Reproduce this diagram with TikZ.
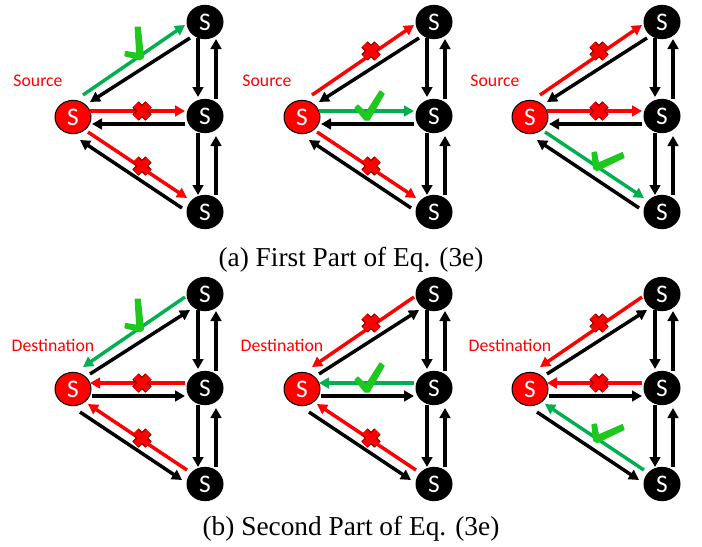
\documentclass[tikz,border=0pt]{standalone}
\usepackage{fontspec}
\setmainfont{Liberation Serif}
\newfontfamily\calib{Carlito}
\usetikzlibrary{shapes.geometric,arrows.meta,calc}
\definecolor{okgreen}{RGB}{0,176,80}
\definecolor{chkgreen}{RGB}{30,200,30}
\definecolor{errred}{RGB}{255,0,0}
\definecolor{xdark}{RGB}{140,0,0}
\tikzset{
  conn/.style={line width=2.6pt},
  fwd/.style={-{Triangle[length=7.5pt,width=8pt]}},
  bwd/.style={{Triangle[length=7.5pt,width=8pt]}-},
  lineok/.style={conn,draw=okgreen},
  linebad/.style={conn,draw=errred},
  lineblk/.style={conn,draw=black},
  snode/.style={ellipse,draw=black,line width=0.75pt,fill=black,text=white,
    minimum width=27pt,minimum height=25pt,inner sep=0pt,
    font=\calib\fontsize{19}{19}\selectfont},
  srcnode/.style={snode,fill=errred},
  lbl/.style={text=errred,font=\calib\fontsize{13.3}{14}\selectfont,inner sep=0pt},
  captxt/.style={font=\fontsize{20.5}{24}\selectfont,inner sep=0pt,anchor=base},
  checkmk/.style={draw=chkgreen,fill=chkgreen,line width=1pt,line join=round},
  xout/.style={draw=xdark,line width=6.8pt},
  xin/.style={draw=errred,line width=5pt},
}
\newcommand\mkok[3]{%
  \filldraw[checkmk,shift={(#1c#2)},rotate=#3]
    (-12,-9) -- (-9,-12) -- (-1,-4) -- (13,-26) -- (17,-23) -- (2,3) -- (-2,3) -- cycle;}
\newcommand\mkbad[3]{%
  \foreach \st in {xout,xin}{%
    \draw[\st] (#1x#2) +(-6.5,-6.5) -- +(6.5,6.5) (#1x#2) +(-6.5,6.5) -- +(6.5,-6.5);}}
% #1 prefix #2 x #3 y #4 coloured dir #5 black dir #6 upper #7 mid #8 lower
\newcommand\mypanel[8]{%
  \node[srcnode] (#1s) at (73+#2,117+#3) {S};
  \node[snode] (#1t) at (205+#2,22+#3) {S};
  \node[snode] (#1m) at (205+#2,116+#3) {S};
  \node[snode] (#1b) at (205+#2,212+#3) {S};
  % coloured lines
  \draw[line#6,#4] ($(#1s)+(10,-22)$) -- ($(#1t)+(-20,3)$);
  \draw[line#7,#4] ($(#1s)+(17,-6)$) -- ($(#1m)+(-20,-5)$);
  \draw[line#8,#4] ($(#1s)+(15,15)$) -- ($(#1b)+(-18,-14)$);
  % black lines
  \draw[lineblk,#5] ($(#1t)+(-15,16)$) -- ($(#1s)+(17,-15)$);
  \draw[lineblk,#5] ($(#1m)+(-20,8)$) -- ($(#1s)+(19,7)$);
  \draw[lineblk,#5] ($(#1b)+(-23,-4)$) -- ($(#1s)+(7,23)$);
  % verticals
  \draw[lineblk,fwd] ($(#1t)+(-7,16)$) -- ($(#1m)+(-7,-19)$);
  \draw[lineblk,fwd] ($(#1m)+(11,-17)$) -- ($(#1t)+(11,17)$);
  \draw[lineblk,fwd] ($(#1m)+(-7,17)$) -- ($(#1b)+(-7,-17)$);
  \draw[lineblk,fwd] ($(#1b)+(11,-17)$) -- ($(#1m)+(11,20)$);
  % mark positions
  \coordinate (#1xu) at ($(#1s)+(69,-66)$);
  \coordinate (#1xm) at ($(#1s)+(69,-6)$);
  \coordinate (#1xl) at ($(#1s)+(69,49)$);
  \coordinate (#1cu) at ($(#1s)+(67,-61)$);
  \coordinate (#1cm) at ($(#1s)+(65,0)$);
  \coordinate (#1cl) at ($(#1s)+(67,50)$);
  \csname mk#6\endcsname{#1}{u}{36}
  \csname mk#7\endcsname{#1}{m}{0}
  \csname mk#8\endcsname{#1}{l}{-34}
}
\begin{document}
\begin{tikzpicture}[x=0.75pt,y=-0.75pt]
\useasboundingbox (0,0) rectangle (702,546);
\fill[white] (0,0) rectangle (702,546);
\mypanel{aa}{0}{0}{fwd}{fwd}{ok}{bad}{bad}
\mypanel{ab}{229}{0}{fwd}{fwd}{bad}{ok}{bad}
\mypanel{ac}{457}{0}{fwd}{fwd}{bad}{bad}{ok}
\mypanel{ba}{0}{272}{bwd}{bwd}{ok}{bad}{bad}
\mypanel{bb}{229}{272}{bwd}{bwd}{bad}{ok}{bad}
\mypanel{bc}{457}{272}{bwd}{bwd}{bad}{bad}{ok}
\node[lbl] (aalab) at ($(aas)+(-35,-36)$) {Source};
\node[lbl] (ablab) at ($(abs)+(-35,-36)$) {Source};
\node[lbl] (aclab) at ($(acs)+(-35,-36)$) {Source};
\node[lbl] (balab) at ($(bas)+(-20,-44)$) {Destination};
\node[lbl] (bblab) at ($(bbs)+(-20,-44)$) {Destination};
\node[lbl] (bclab) at ($(bcs)+(-20,-44)$) {Destination};
\node[captxt] (capa) at (351,266) {(a) First Part of Eq. (3e)};
\node[captxt] (capb) at (351,535) {(b) Second Part of Eq. (3e)};
\end{tikzpicture}
\end{document}
